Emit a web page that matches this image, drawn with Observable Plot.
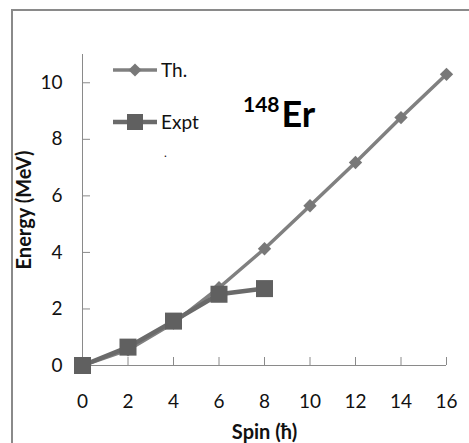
<!DOCTYPE html>
<html>
<head>
<meta charset="utf-8">
<script src="https://cdn.jsdelivr.net/npm/d3@7"></script>
<script src="https://cdn.jsdelivr.net/npm/@observablehq/plot@0.6"></script>
<style>
  html, body { margin: 0; padding: 0; background: #fff; }
  #wrap { position: relative; width: 469px; height: 443px; overflow: hidden; font-family: Lato, "Open Sans", sans-serif; }
  #frame { position: absolute; left: 11px; top: 9px; width: 600px; height: 600px; border: 2px solid #8a8a8a; box-sizing: border-box; }
  #chart { position: absolute; left: 0; top: 0; }
  .ov { position: absolute; }
</style>
</head>
<body>
<div id="wrap">
  <div id="frame"></div>
  <div id="chart"></div>
</div>
<script>
const spin = [0, 2, 4, 6, 8, 10, 12, 14, 16];
const thEnergy = [0, 0.55, 1.5, 2.75, 4.13, 5.65, 7.18, 8.77, 10.3];
const exptSpin = [0, 2, 4, 6, 8];
const exptEnergy = [0, 0.65, 1.57, 2.52, 2.72];
const xTicks = [0, 2, 4, 6, 8, 10, 12, 14, 16];
const yTicks = [0, 2, 4, 6, 8, 10];
const seriesNames = ["Th.", "Expt"];

const th = spin.map((s, i) => ({spin: s, energy: thEnergy[i]}));
const expt = exptSpin.map((s, i) => ({spin: s, energy: exptEnergy[i]}));

const lineColor = "#808080";
const markColor = "#606060";
const font = "Lato, 'Open Sans', sans-serif";

const plot = Plot.plot({
  width: 469,
  height: 443,
  marginLeft: 82,
  marginRight: 23,
  marginTop: 54,
  marginBottom: 78,
  style: {fontFamily: font, fontSize: "19px", color: "#111", background: "transparent"},
  x: {domain: [0, 16]},
  y: {domain: [0, 11]},
  marks: [
    Plot.ruleY([0], {stroke: "#8a8a8a", strokeWidth: 1}),
    Plot.ruleX([0], {stroke: "#8a8a8a", strokeWidth: 1}),
    Plot.axisX({ticks: xTicks, tickSize: -8, tickPadding: 37, stroke: "#8a8a8a", fill: "#111",
      label: "Spin (ħ)", labelAnchor: "center", labelArrow: "none", labelOffset: 73}),
    Plot.axisY({ticks: yTicks, tickSize: -8, tickPadding: 28, stroke: "#8a8a8a", fill: "#111",
      label: "Energy (MeV)", labelAnchor: "center", labelArrow: "none", labelOffset: 66}),
    Plot.line(th, {x: "spin", y: "energy", stroke: lineColor, strokeWidth: 3.5}),
    Plot.dot(th, {x: "spin", y: "energy", symbol: "diamond2", r: 6, fill: "#787878", stroke: "none"}),
    Plot.line(expt, {x: "spin", y: "energy", stroke: "#6a6a6a", strokeWidth: 4.5}),
    Plot.dot(expt, {x: "spin", y: "energy", symbol: "square", r: 9.6, fill: markColor, stroke: "none"})
  ]
});
const sel = d3.select(plot);
sel.selectAll("g[aria-label$='tick label']").attr("font-size", 19).style("font-size", "19px");
sel.selectAll("g[aria-label$='tick label'] text").style("font-size", "19px");
sel.selectAll("g[aria-label='x-axis label'], g[aria-label='y-axis label']").attr("font-size", 20).style("font-size", "20px").attr("font-weight", "bold");
sel.selectAll("g[aria-label='x-axis label'] text, g[aria-label='y-axis label'] text").style("font-size", "20px").style("font-weight", "bold");
document.getElementById("chart").appendChild(plot);

// legend overlay
const leg = d3.select("#wrap").append("svg").attr("class", "ov")
  .attr("width", 469).attr("height", 443).style("left", "0px").style("top", "0px");
const ly = [70, 122];
seriesNames.forEach((name, i) => {
  leg.append("line").attr("x1", 113).attr("x2", 157).attr("y1", ly[i]).attr("y2", ly[i])
    .attr("stroke", i === 0 ? lineColor : "#6a6a6a").attr("stroke-width", i === 0 ? 3.5 : 4.5);
  if (i === 0) {
    leg.append("path").attr("d", d3.symbol(d3.symbolDiamond2, 110)()).attr("transform", `translate(135,${ly[i]})`).attr("fill", "#787878");
  } else {
    leg.append("rect").attr("x", 127).attr("y", ly[i] - 8).attr("width", 16).attr("height", 16).attr("fill", markColor);
  }
  leg.append("text").attr("x", 161).attr("y", ly[i] + 7).text(name)
    .style("font-family", font).style("font-size", "19px").attr("fill", "#111");
});
// isotope label
const t = leg.append("text").attr("x", 243).attr("y", 127)
  .style("font-family", font).attr("fill", "#000");
t.append("tspan").text("148").style("font-size", "21px").style("font-weight", "bold").attr("dy", -15);
t.append("tspan").text("Er").style("font-size", "36px").style("font-weight", "bold").attr("dx", 2).attr("dy", 15);
leg.append("text").attr("x", 164).attr("y", 157).text(".").style("font-size", "12px").attr("fill", "#111");
</script>
</body>
</html>
